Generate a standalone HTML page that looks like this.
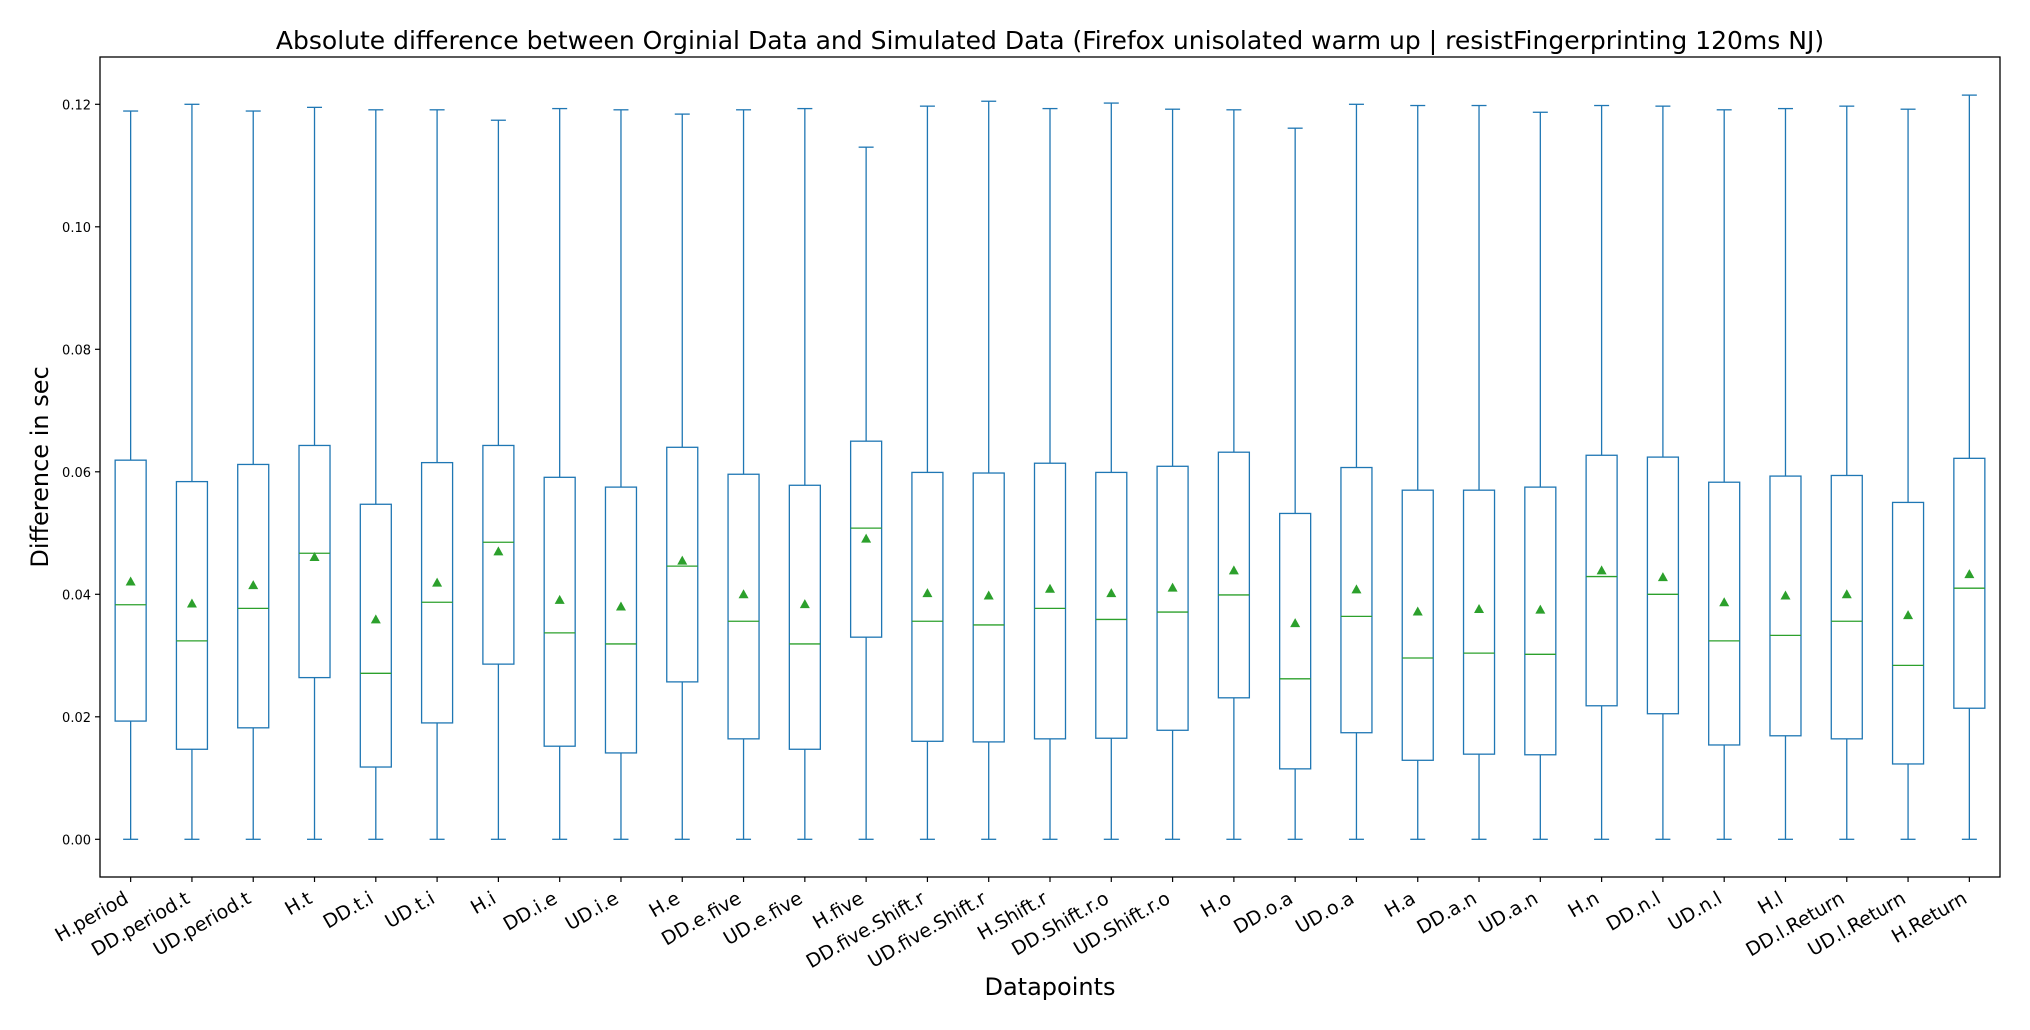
<!DOCTYPE html>
<html><head><meta charset="utf-8"><style>
html,body{margin:0;padding:0;background:#fff}
svg{display:block;font-family:"DejaVu Sans","Liberation Sans",sans-serif}
</style></head><body>
<svg id="chart" width="2030" height="1030" viewBox="0 0 2030 1030" xmlns="http://www.w3.org/2000/svg">
<rect width="2030" height="1030" fill="#fff"/>
<text x="1050" y="49" font-size="25" text-anchor="middle">Absolute difference between Orginial Data and Simulated Data (Firefox unisolated warm up | resistFingerprinting 120ms NJ)</text>
<g id="plot"></g>
<rect x="100" y="57" width="1900" height="820" fill="none" stroke="#000" stroke-width="1.3"/>
<text transform="translate(48,467) rotate(-90)" font-size="24" text-anchor="middle">Difference in sec</text>
<text x="1050" y="995" font-size="24" text-anchor="middle">Datapoints</text>
</svg>
<script>
const categories=["H.period","DD.period.t","UD.period.t","H.t","DD.t.i","UD.t.i","H.i","DD.i.e","UD.i.e","H.e","DD.e.five","UD.e.five","H.five","DD.five.Shift.r","UD.five.Shift.r","H.Shift.r","DD.Shift.r.o","UD.Shift.r.o","H.o","DD.o.a","UD.o.a","H.a","DD.a.n","UD.a.n","H.n","DD.n.l","UD.n.l","H.l","DD.l.Return","UD.l.Return","H.Return"];
const whiskerLow=[0,0,0,0,0,0,0,0,0,0,0,0,0,0,0,0,0,0,0,0,0,0,0,0,0,0,0,0,0,0,0];
const q1=[.0193,.0147,.0182,.0264,.0118,.0190,.0286,.0152,.0141,.0257,.0164,.0147,.0330,.0160,.0159,.0164,.0165,.0178,.0231,.0115,.0174,.0129,.0139,.0138,.0218,.0205,.0154,.0169,.0164,.0123,.0214];
const medians=[.0383,.0324,.0377,.0467,.0271,.0387,.0485,.0337,.0319,.0446,.0356,.0319,.0508,.0356,.0350,.0377,.0359,.0371,.0399,.0262,.0364,.0296,.0304,.0302,.0429,.0400,.0324,.0333,.0356,.0284,.0410];
const means=[.0421,.0385,.0415,.0461,.0359,.0419,.0470,.0391,.0380,.0455,.0400,.0384,.0491,.0402,.0398,.0409,.0402,.0411,.0439,.0353,.0408,.0372,.0376,.0375,.0439,.0428,.0387,.0398,.0400,.0366,.0433];
const q3=[.0619,.0584,.0612,.0643,.0547,.0615,.0643,.0591,.0575,.0640,.0596,.0578,.0650,.0599,.0598,.0614,.0599,.0609,.0632,.0532,.0607,.0570,.0570,.0575,.0627,.0624,.0583,.0593,.0594,.0550,.0622];
const whiskerHigh=[.1189,.1200,.1189,.1195,.1191,.1191,.1174,.1193,.1191,.1184,.1191,.1193,.1130,.1197,.1205,.1193,.1202,.1192,.1191,.1161,.1200,.1198,.1198,.1187,.1198,.1197,.1191,.1193,.1197,.1192,.1215];
const yTicks=[0,0.02,0.04,0.06,0.08,0.10,0.12];
const yTickLabels=["0.00","0.02","0.04","0.06","0.08","0.10","0.12"];

const NS="http://www.w3.org/2000/svg";
const L=100,R=2000,T=57,B=877;
const step=(R-L)/categories.length;
function xPos(i){return L+step*(i+0.5);}
function yPos(v){return 839.3-v*6125;}
const g=document.getElementById('plot');
function mk(tag,attrs){const e=document.createElementNS(NS,tag);for(const k in attrs)e.setAttribute(k,attrs[k]);g.appendChild(e);return e;}
const blue="#1f77b4",green="#2ca02c";
yTicks.forEach((v,i)=>{
  const y=yPos(v);
  const t=mk('line',{x1:L-5,x2:L,y1:y,y2:y,stroke:'#000','stroke-width':1.2});
  
  
  const lb=mk('text',{x:L-9,y:y+5,'font-size':13,'text-anchor':'end'});
  lb.textContent=yTickLabels[i];
  
  
});
categories.forEach((c,i)=>{
  const x=xPos(i),hw=15.5,cw=7.5;
  const wl=mk('line',{x1:x,x2:x,y1:yPos(q1[i]),y2:yPos(whiskerLow[i]),stroke:blue,'stroke-width':1.3});
  
  
  const wh=mk('line',{x1:x,x2:x,y1:yPos(q3[i]),y2:yPos(whiskerHigh[i]),stroke:blue,'stroke-width':1.3});
  
  
  const cl=mk('line',{x1:x-cw,x2:x+cw,y1:yPos(whiskerLow[i]),y2:yPos(whiskerLow[i]),stroke:blue,'stroke-width':1.3});
  
  
  const ch=mk('line',{x1:x-cw,x2:x+cw,y1:yPos(whiskerHigh[i]),y2:yPos(whiskerHigh[i]),stroke:blue,'stroke-width':1.3});
  
  
  const bx=mk('rect',{x:x-hw,y:yPos(q3[i]),width:2*hw,height:yPos(q1[i])-yPos(q3[i]),fill:'none',stroke:blue,'stroke-width':1.3});
  
  
  const md=mk('line',{x1:x-hw,x2:x+hw,y1:yPos(medians[i]),y2:yPos(medians[i]),stroke:green,'stroke-width':1.3});
  
  
  const my=yPos(means[i]);
  const mn=mk('polygon',{points:`${x},${my-5} ${x-5},${my+4} ${x+5},${my+4}`,fill:green});
  
  
  const tk=mk('line',{x1:x,x2:x,y1:B,y2:B+5,stroke:'#000','stroke-width':1.2});
  
  
  const lb=mk('text',{x:0,y:0,'font-size':19,'text-anchor':'end',transform:`translate(${x-1},${B+25}) rotate(-30)`});
  lb.textContent=c;
  
  
});
</script>
</body></html>
